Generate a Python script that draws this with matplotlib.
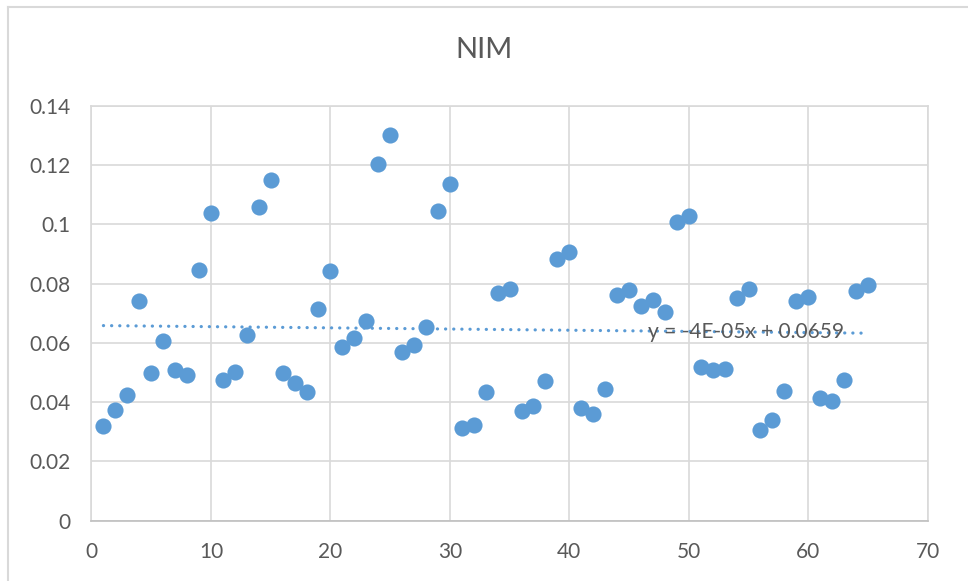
import numpy as np
import matplotlib
matplotlib.use("Agg")
import matplotlib.pyplot as plt
from matplotlib.ticker import FuncFormatter, MultipleLocator

plt.rcParams['font.family'] = ['Lato', 'DejaVu Sans']

# NIM per observation
obs = list(range(1, 66))
nim = [0.0320, 0.0374, 0.0425, 0.0742, 0.0499, 0.0607, 0.0509, 0.0492, 0.0846, 0.1039,
       0.0475, 0.0502, 0.0627, 0.1059, 0.1150, 0.0499, 0.0465, 0.0434, 0.0714, 0.0843,
       0.0586, 0.0617, 0.0675, 0.1205, 0.1302, 0.0569, 0.0593, 0.0654, 0.1046, 0.1137,
       0.0313, 0.0323, 0.0434, 0.0769, 0.0782, 0.0371, 0.0387, 0.0472, 0.0884, 0.0907,
       0.0380, 0.0360, 0.0444, 0.0762, 0.0779, 0.0725, 0.0745, 0.0704, 0.1008, 0.1028,
       0.0519, 0.0509, 0.0512, 0.0752, 0.0782, 0.0306, 0.0340, 0.0438, 0.0742, 0.0756,
       0.0415, 0.0405, 0.0475, 0.0776, 0.0796]

# linear trendline as reported: y = -4E-05x + 0.0659
slope = -4e-05
intercept = 0.0659

blue = '#5B9BD5'
grey_txt = '#595959'
grid_c = '#D9D9D9'

fig = plt.figure(figsize=(9.68, 5.81), dpi=100)
ax = fig.add_axes([0.0945, 0.1038, 0.8639, 0.7138])

ax.scatter(obs, nim, s=135, color=blue, zorder=3, linewidths=0)

tx = np.array([obs[0], obs[-1]])
ax.plot(tx, slope * tx + intercept, color=blue, lw=2.3, linestyle=(0, (0.05, 2.5)),
        dash_capstyle='round', zorder=2)
ax.text(46.6, 0.0637, 'y = -4E-05x + 0.0659', fontsize=15, color=grey_txt,
        va='center', ha='left', zorder=4)

ax.set_xlim(0, 70)
ax.set_ylim(0, 0.14)
ax.xaxis.set_major_locator(MultipleLocator(10))
ax.yaxis.set_major_locator(MultipleLocator(0.02))
ax.yaxis.set_major_formatter(FuncFormatter(lambda v, p: '%g' % round(v, 2)))
ax.grid(True, color=grid_c, lw=1.2)
ax.set_axisbelow(True)
for s in ax.spines.values():
    s.set_color(grid_c)
    s.set_linewidth(1.2)
ax.spines['bottom'].set_color('#BFBFBF')
ax.tick_params(length=0, labelsize=15, labelcolor=grey_txt, pad=15)

fig.text(0.5, 1 - 50 / 581, 'NIM', fontsize=21, color=grey_txt, ha='center', va='center')

# chart area border
fig.add_artist(plt.Line2D([8 / 968, 1], [1 - 7 / 581, 1 - 7 / 581], transform=fig.transFigure,
                          color=grid_c, lw=1.5))
fig.add_artist(plt.Line2D([8 / 968, 8 / 968], [0, 1 - 7 / 581], transform=fig.transFigure,
                          color=grid_c, lw=1.5))

fig.savefig('out.png', dpi=100)
